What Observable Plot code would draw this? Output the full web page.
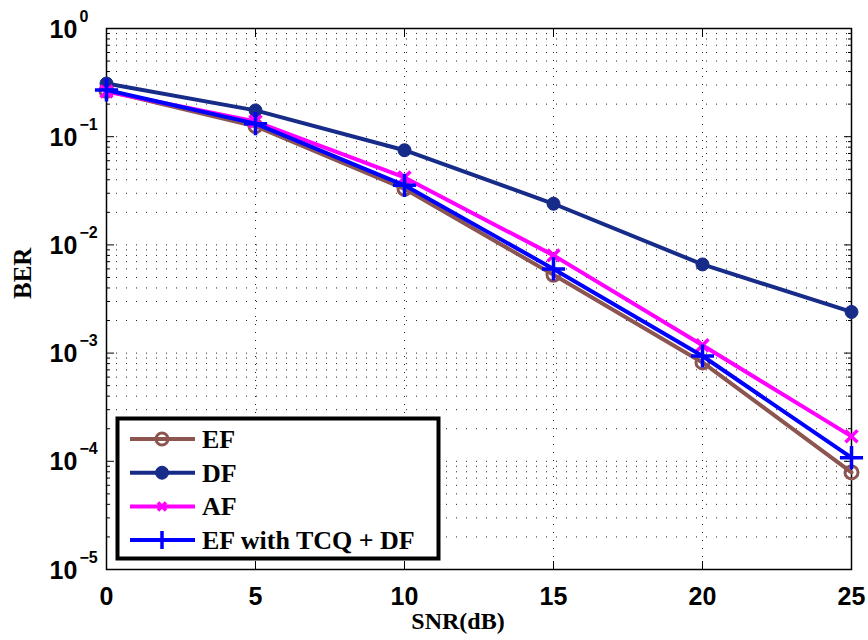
<!DOCTYPE html>
<html><head><meta charset="utf-8">
<script src="https://cdn.jsdelivr.net/npm/d3@7"></script>
<script src="https://cdn.jsdelivr.net/npm/@observablehq/plot@0.6"></script>
<style>body{margin:0;background:#fff}</style>
</head><body><div id="chart"></div>
<script>
const snr = [0, 5, 10, 15, 20, 25];
const berEF  = [0.265, 0.125, 0.033, 0.0053, 0.00082, 0.000079];
const berDF  = [0.31, 0.175, 0.075, 0.024, 0.0066, 0.0024];
const berAF  = [0.262, 0.138, 0.042, 0.008, 0.00118, 0.00017];
const berTCQ = [0.27, 0.132, 0.0355, 0.006, 0.00094, 0.000108];
const seriesNames = ["EF", "DF", "AF", "EF with TCQ + DF"];
const seriesColors = ["#8c5550", "#172b88", "#ff00ff", "#0000ff"];
const xTicks = [0, 5, 10, 15, 20, 25];
const yTicks = [1, 1e-1, 1e-2, 1e-3, 1e-4, 1e-5];
const yExponents = ["0", "\u22121", "\u22122", "\u22123", "\u22124", "\u22125"];
const xLabel = "SNR(dB)";
const yLabel = "BER";

const seriesValues = [berEF, berDF, berAF, berTCQ];
const data = seriesNames.flatMap((s, i) => snr.map((x, j) => ({series: s, snr: x, ber: seriesValues[i][j]})));
const minorY = [];
for (let k = -5; k < 0; k++) for (let m = 2; m <= 9; m++) minorY.push(m * Math.pow(10, k));

const markerStyles = {
  "EF": {symbol: "circle", r: 6.5, fill: "none", strokeWidth: 3},
  "DF": {symbol: "circle", r: 6.5, fill: "color", strokeWidth: 1},
  "AF": {symbol: "times", r: 5.5, fill: "none", strokeWidth: 3.5},
  "EF with TCQ + DF": {symbol: "plus", r: 7.5, fill: "none", strokeWidth: 3.5}
};

const sans = "'Liberation Sans', Arial, Helvetica, sans-serif";
const serif = "'Liberation Serif', 'Times New Roman', serif";

const seriesMarks = seriesNames.flatMap((s, i) => {
  const d = data.filter(r => r.series === s);
  const ms = markerStyles[s];
  return [
    Plot.line(d, {x: "snr", y: "ber", stroke: seriesColors[i], strokeWidth: 4, strokeLinejoin: "round"}),
    Plot.dot(d, {x: "snr", y: "ber", symbol: ms.symbol, r: ms.r,
      fill: ms.fill === "color" ? seriesColors[i] : "none",
      stroke: seriesColors[i], strokeWidth: ms.strokeWidth})
  ];
});

const chart = Plot.plot({
  width: 868, height: 640,
  marginLeft: 106, marginRight: 17, marginTop: 28, marginBottom: 71,
  style: {fontFamily: sans, background: "#fff", overflow: "visible"},
  x: {domain: [0, 25], ticks: xTicks},
  y: {type: "log", domain: [1e-5, 1]},
  marks: [
    Plot.ruleY(minorY, {stroke: "#222", strokeWidth: 1, strokeDasharray: "1,9"}),
    Plot.ruleY(yTicks.slice(1, -1), {stroke: "#222", strokeWidth: 1, strokeDasharray: "1,9"}),
    Plot.ruleX(xTicks.slice(1, -1), {stroke: "#222", strokeWidth: 1, strokeDasharray: "1,7"}),
    Plot.frame({stroke: "#000", strokeWidth: 1.5}),
    Plot.axisX(xTicks, {anchor: "bottom", tickSize: -8, fill: "none", label: null}),
    Plot.axisX(xTicks, {anchor: "top", tickSize: -8, fill: "none", label: null}),
    Plot.axisY(yTicks, {anchor: "left", tickSize: -8, fill: "none", label: null}),
    Plot.axisY(yTicks, {anchor: "right", tickSize: -8, fill: "none", label: null}),
    Plot.axisY(minorY, {anchor: "left", tickSize: -4, fill: "none", label: null}),
    Plot.axisY(minorY, {anchor: "right", tickSize: -4, fill: "none", label: null}),
    Plot.axisX(xTicks, {anchor: "bottom", tickSize: 0, tickPadding: 18, fontSize: 25, fontWeight: "bold", label: null}),
    Plot.text(yTicks, {y: d => d, frameAnchor: "left", text: () => "10", textAnchor: "start", dx: -57, dy: 1, fontSize: 25, fontWeight: "bold"}),
    Plot.text(yTicks, {y: d => d, frameAnchor: "left", text: (d, i) => yExponents[i], textAnchor: "start", dx: -27, dy: -12, fontSize: 16, fontWeight: "bold"}),
    Plot.text([yLabel], {frameAnchor: "left", text: d => d, dx: -84, rotate: -90, fontSize: 25, fontWeight: "bold", fontFamily: serif}),
    Plot.text([xLabel], {frameAnchor: "bottom", text: d => d, dx: -21, dy: 59, fontSize: 24, fontWeight: "bold", fontFamily: serif}),
    ...seriesMarks
  ]
});
document.getElementById("chart").appendChild(chart);

// Legend
const svg = d3.select(chart);
const lg = svg.append("g").attr("text-anchor", "start");
lg.append("rect").attr("x", 117.5).attr("y", 418.5).attr("width", 321).attr("height", 140)
  .attr("fill", "#fff").attr("stroke", "#000").attr("stroke-width", 4);
seriesNames.forEach((s, i) => {
  const y = 439 + i * 33.7;
  const c = seriesColors[i];
  lg.append("line").attr("x1", 130).attr("x2", 195).attr("y1", y).attr("y2", y)
    .attr("stroke", c).attr("stroke-width", 4);
  const cx = 162;
  if (s === "EF") {
    lg.append("circle").attr("cx", cx).attr("cy", y).attr("r", 6).attr("fill", "none").attr("stroke", c).attr("stroke-width", 3);
  } else if (s === "DF") {
    lg.append("circle").attr("cx", cx).attr("cy", y).attr("r", 6.5).attr("fill", c).attr("stroke", c);
  } else if (s === "AF") {
    const a = 4;
    lg.append("path").attr("d", `M${cx-a},${y-a}L${cx+a},${y+a}M${cx-a},${y+a}L${cx+a},${y-a}`)
      .attr("stroke", c).attr("stroke-width", 3.5).attr("fill", "none");
  } else {
    const a = 9;
    lg.append("path").attr("d", `M${cx-a},${y}L${cx+a},${y}M${cx},${y-a}L${cx},${y+a}`)
      .attr("stroke", c).attr("stroke-width", 3.5).attr("fill", "none");
  }
  lg.append("text").attr("x", 202).attr("y", y + 9).attr("text-anchor", "start").text(s)
    .attr("font-family", serif).attr("font-weight", "bold").attr("font-size", 26).attr("fill", "#000");
});
</script>
</body></html>
